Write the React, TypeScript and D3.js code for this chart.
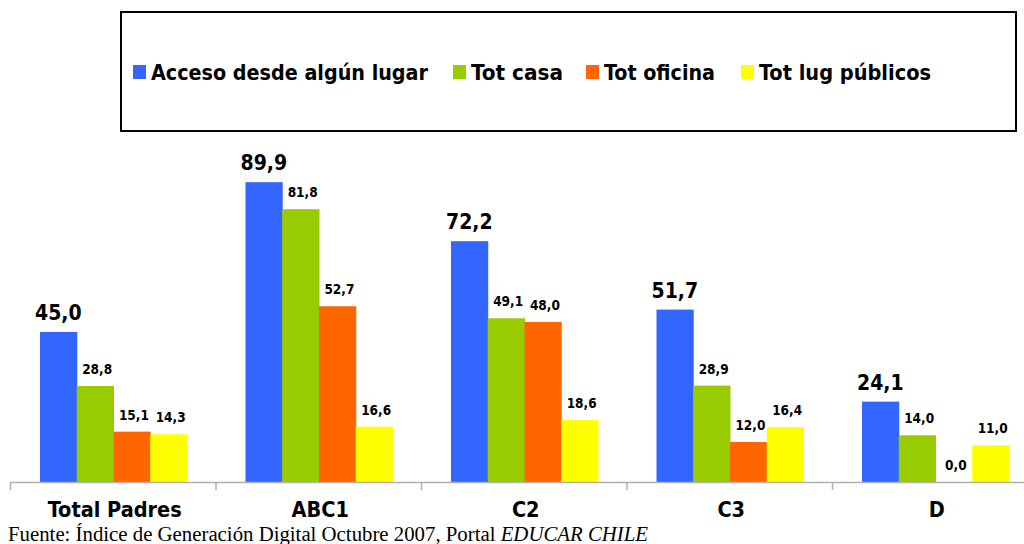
import React from "react";
import * as d3 from "d3";

const categories = ["Total Padres", "ABC1", "C2", "C3", "D"];
const seriesNames = ["Acceso desde algún lugar", "Tot casa", "Tot oficina", "Tot lug públicos"];
const seriesColors = ["#3366ff", "#99cc00", "#ff6600", "#ffff00"];
const acceso = [45.0, 89.9, 72.2, 51.7, 24.1];
const casa = [28.8, 81.8, 49.1, 28.9, 14.0];
const oficina = [15.1, 52.7, 48.0, 12.0, 0.0];
const publicos = [14.3, 16.6, 18.6, 16.4, 11.0];
const series = [acceso, casa, oficina, publicos];

const FONT = "'DejaVu Sans Condensed', 'DejaVu Sans', Tahoma, sans-serif";

export default function App() {
  const W = 1024, H = 544;
  const x0 = d3.scaleBand<string>().domain(categories).range([10, 10 + 5 * 205.5]).paddingInner(0).paddingOuter(0);
  const bw = x0.bandwidth();
  const x1 = d3.scaleBand<number>().domain([0, 1, 2, 3]).range([30, 177]).padding(0);
  const y = d3.scaleLinear().domain([0, 100]).range([482, 148.5]);
  const fmt = (v: number) => v.toFixed(1).replace(".", ",");

  const legendX = [133, 453, 586, 741];
  const legendW = [277, 92, 111, 172];

  return (
    <svg width={W} height={H} style={{ position: "absolute", left: 0, top: 0, background: "#fff" }}>
      <rect x={0} y={0} width={W} height={H} fill="#fff" />
      {/* legend */}
      <rect x={121} y={12} width={895} height={119} fill="#fff" stroke="#000" strokeWidth={2} />
      {seriesNames.map((n, i) => (
        <g key={n} transform={`translate(${legendX[i]},0)`}>
          <rect x={0} y={65} width={13} height={14} fill={seriesColors[i]} />
          <text x={18} y={80} fontFamily={FONT} fontWeight="bold" fontSize={22} textLength={legendW[i]} lengthAdjust="spacingAndGlyphs" fill="#000">{n}</text>
        </g>
      ))}
      {/* bars */}
      {categories.map((c, ci) => (
        <g key={c} transform={`translate(${x0(c)},0)`}>
          {series.map((s, si) => (
            <rect key={si} x={x1(si)} y={y(s[ci])} width={x1.bandwidth() + 0.5} height={y(0) - y(s[ci])} fill={seriesColors[si]} />
          ))}
          {series.map((s, si) => (
            <text key={"t" + si} x={(x1(si) as number) + x1.bandwidth() / 2 + (si === 0 ? 0 : 2)} y={y(s[ci]) - 12}
              textAnchor="middle" fontFamily={FONT} fontWeight="bold" fontSize={si === 0 ? 21 : 13.5} fill="#000">{fmt(s[ci])}</text>
          ))}
        </g>
      ))}
      {/* axis */}
      <line x1={10} x2={1024} y1={482.5} y2={482.5} stroke="#b0b0b0" strokeWidth={1.5} />
      {categories.map((c) => (
        <line key={c} x1={(x0(c) as number) + 0.5} x2={(x0(c) as number) + 0.5} y1={482} y2={490} stroke="#b0b0b0" strokeWidth={1.5} />
      ))}
      {categories.map((c) => (
        <text key={c} x={(x0(c) as number) + bw / 2 + 2} y={517} textAnchor="middle" fontFamily={FONT} fontWeight="bold" fontSize={21.5} fill="#000">{c}</text>
      ))}
      <text x={8} y={541} fontFamily="'Liberation Serif', 'Times New Roman', serif" fontSize={20} textLength={640} lengthAdjust="spacingAndGlyphs" fill="#000">
        Fuente: Índice de Generación Digital Octubre 2007, Portal <tspan fontStyle="italic">EDUCAR CHILE</tspan>
      </text>
    </svg>
  );
}
